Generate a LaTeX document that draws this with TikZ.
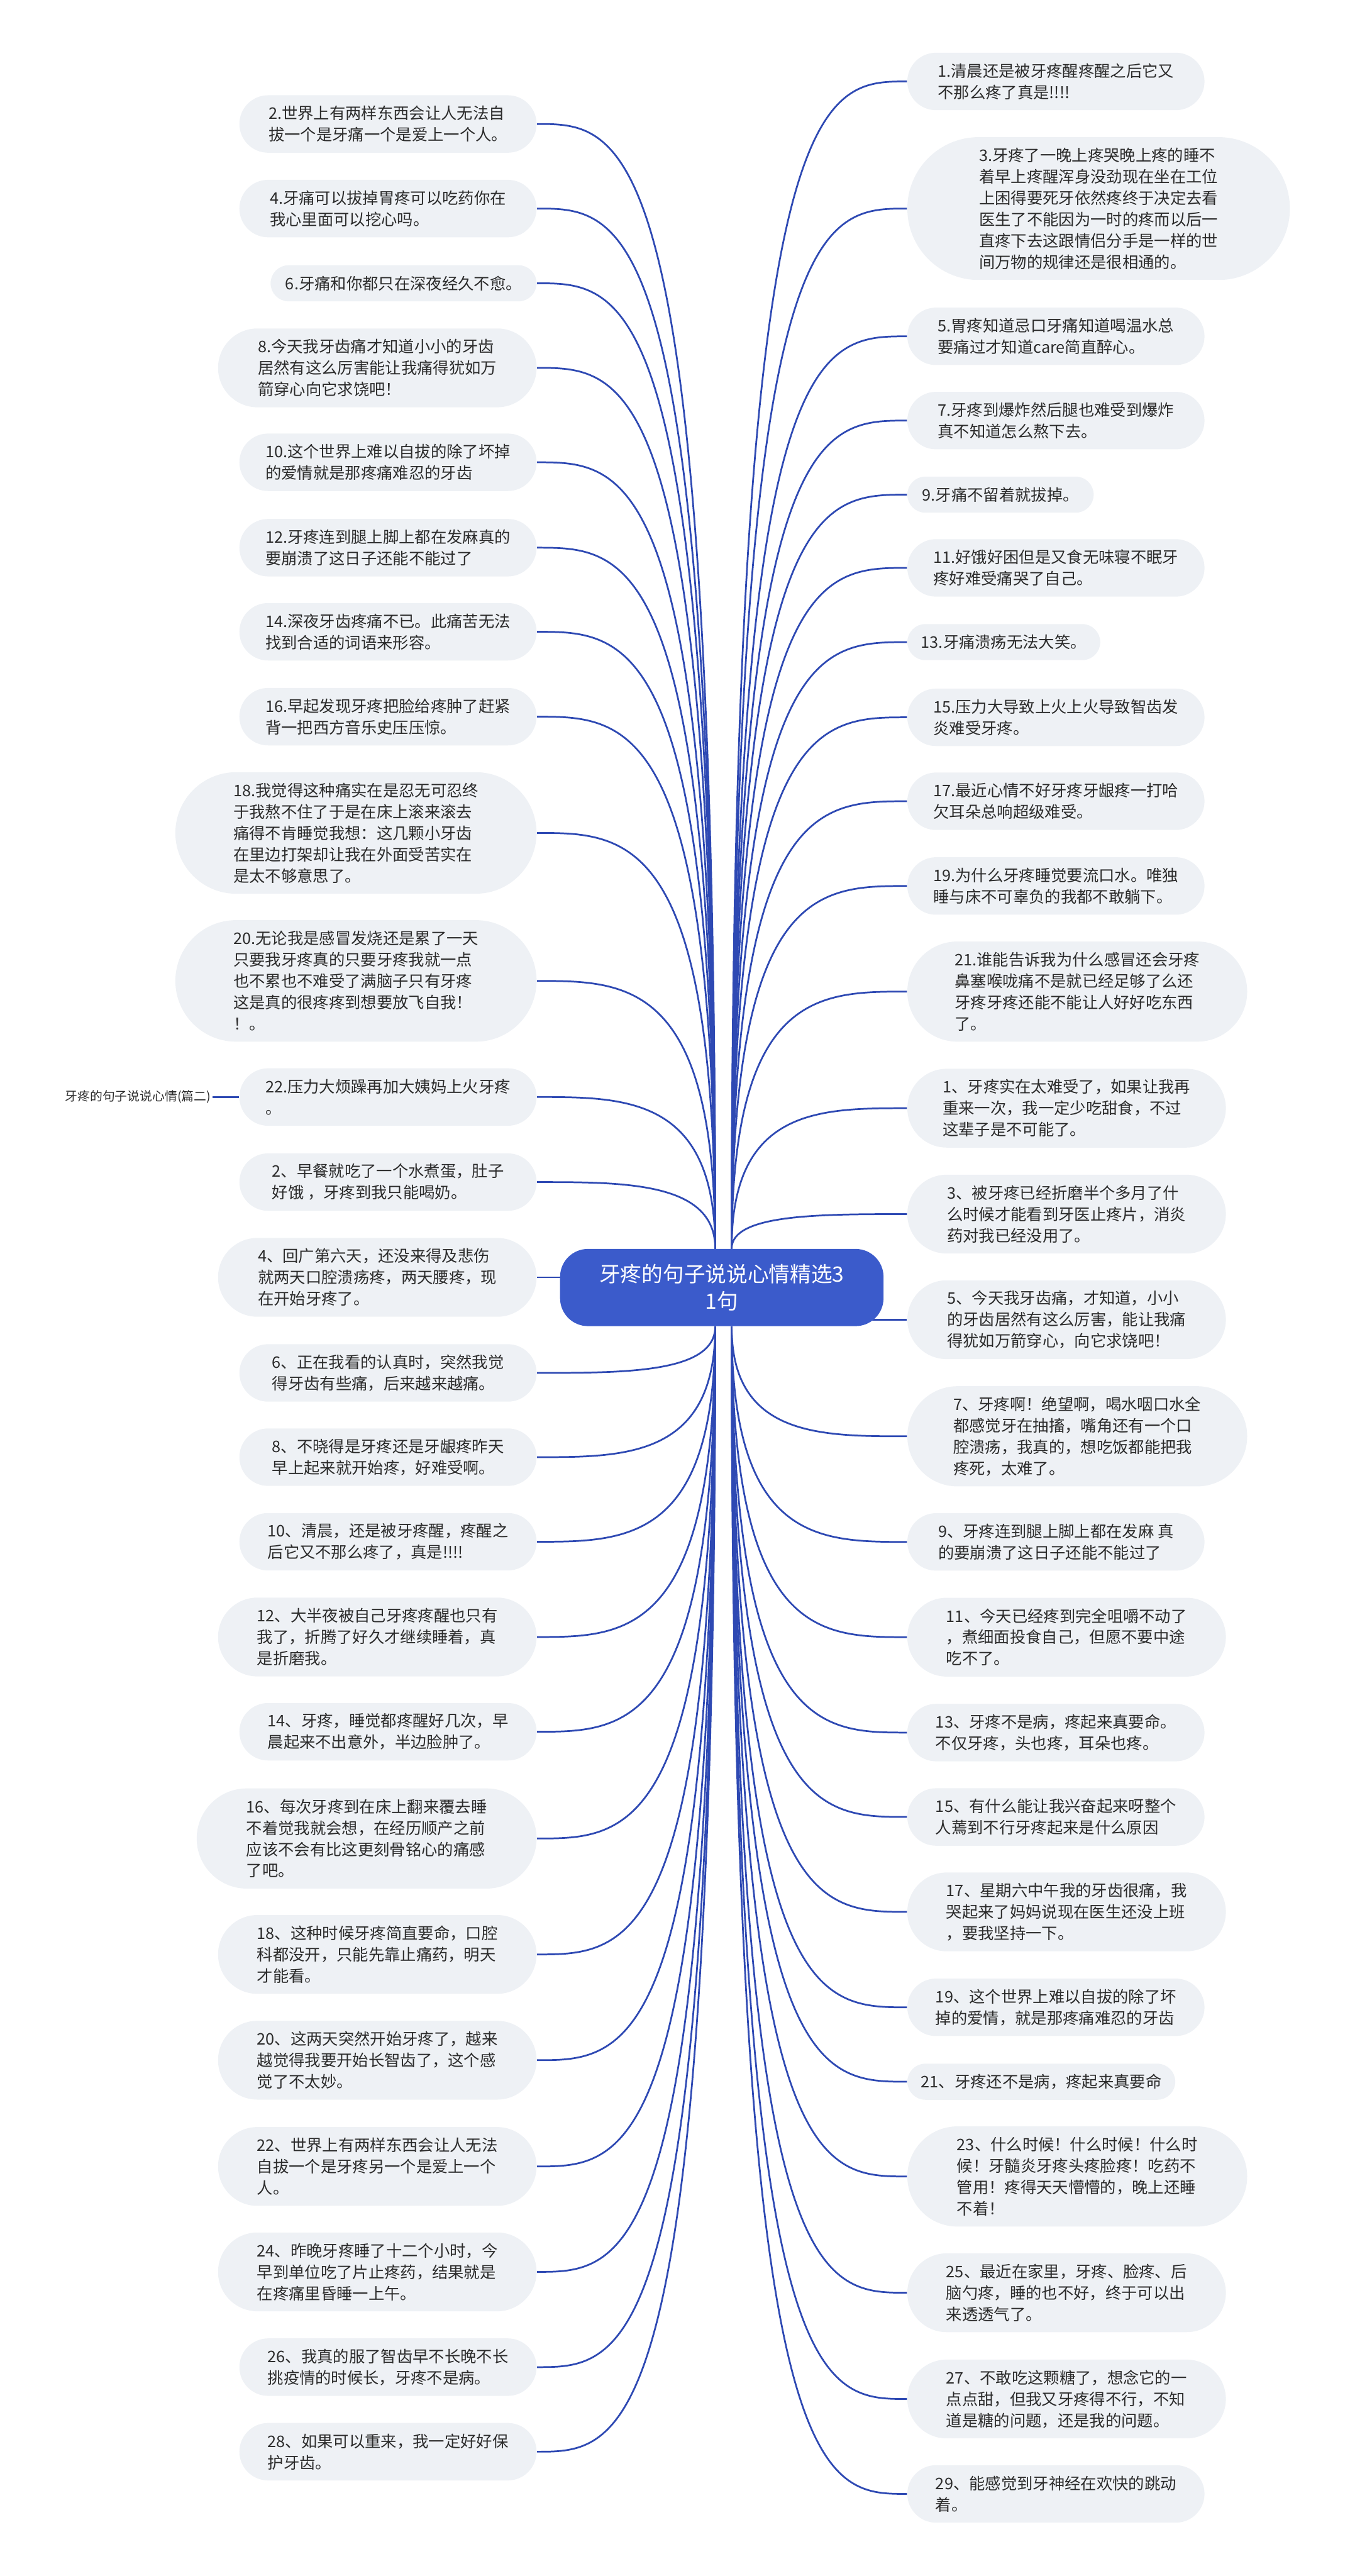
\documentclass[tikz,border=0pt]{standalone}
\usepackage{fontspec}
\setmainfont{Noto Sans CJK SC}
\usepackage{xcolor}
\usetikzlibrary{positioning,shapes.misc,calc,backgrounds}

\definecolor{leaffill}{HTML}{EEF1F5}
\definecolor{hubblue}{HTML}{3B5BCB}
\definecolor{linkblue}{HTML}{2E49B3}
\definecolor{inkgray}{HTML}{2B2B2B}

\begin{document}
\begin{tikzpicture}[
  x=1pt, y=-1pt,
  leaf/.style={rounded rectangle, fill=leaffill, text=inkgray, align=left,
    inner sep=2pt, font=\fontsize{9.7pt}{13pt}\selectfont},
  h1/.style={minimum height=22pt},
  h2/.style={minimum width=185pt, minimum height=35pt},
  h3/.style={minimum width=198pt, minimum height=48pt},
  h4/.style={minimum width=211pt, minimum height=61pt},
  h5/.style={minimum width=224pt, minimum height=74pt},
  h6/.style={minimum width=237pt, minimum height=87pt},
  hub/.style={rectangle, rounded corners=17pt, fill=hubblue, text=white,
    align=center, minimum width=197pt, minimum height=47pt,
    font=\fontsize{12.9pt}{16.4pt}\selectfont},
  tag/.style={font=\fontsize{7.6pt}{9pt}\selectfont, text=inkgray, inner sep=1pt},
  link/.style={draw=linkblue, line width=1.05pt}
]
\useasboundingbox (0,0) rectangle (822,1568.6);

\node[hub] (hub) at (439.6,784) {牙疼的句子说说心情精选3\\1句};

% left column
\node[leaf, h2, anchor=east] (l1) at (327,75.5) {2.世界上有两样东西会让人无法自\\拔一个是牙痛一个是爱上一个人。};
\node[leaf, h2, anchor=east] (l2) at (327,127) {4.牙痛可以拔掉胃疼可以吃药你在\\我心里面可以挖心吗。};
\node[leaf, h1, minimum width=166pt, anchor=east] (l3) at (327,172.5) {6.牙痛和你都只在深夜经久不愈。};
\node[leaf, h3, anchor=east] (l4) at (327,224) {8.今天我牙齿痛才知道小小的牙齿\\居然有这么厉害能让我痛得犹如万\\箭穿心向它求饶吧！};
\node[leaf, h2, anchor=east] (l5) at (327,281.5) {10.这个世界上难以自拔的除了坏掉\\的爱情就是那疼痛难忍的牙齿};
\node[leaf, h2, anchor=east] (l6) at (327,333.5) {12.牙疼连到腿上脚上都在发麻真的\\要崩溃了这日子还能不能过了};
\node[leaf, h2, anchor=east] (l7) at (327,384.7) {14.深夜牙齿疼痛不已。此痛苦无法\\找到合适的词语来形容。};
\node[leaf, h2, anchor=east] (l8) at (327,436.4) {16.早起发现牙疼把脸给疼肿了赶紧\\背一把西方音乐史压压惊。};
\node[leaf, h5, anchor=east] (l9) at (327,507.2) {18.我觉得这种痛实在是忍无可忍终\\于我熬不住了于是在床上滚来滚去\\痛得不肯睡觉我想：这几颗小牙齿\\在里边打架却让我在外面受苦实在\\是太不够意思了。};
\node[leaf, h5, anchor=east] (l10) at (327,597.3) {20.无论我是感冒发烧还是累了一天\\只要我牙疼真的只要牙疼我就一点\\也不累也不难受了满脑子只有牙疼\\这是真的很疼疼到想要放飞自我！\\！。};
\node[leaf, h2, anchor=east] (l11) at (327,668) {22.压力大烦躁再加大姨妈上火牙疼\\。};
\node[leaf, h2, anchor=east] (l12) at (327,719.8) {2、早餐就吃了一个水煮蛋，肚子\\好饿 ，牙疼到我只能喝奶。};
\node[leaf, h3, anchor=east] (l13) at (327,777.8) {4、回广第六天，还没来得及悲伤\\就两天口腔溃疡疼，两天腰疼，现\\在开始牙疼了。};
\node[leaf, h2, anchor=east] (l14) at (327,836) {6、正在我看的认真时，突然我觉\\得牙齿有些痛，后来越来越痛。};
\node[leaf, h2, anchor=east] (l15) at (327,887.3) {8、不晓得是牙疼还是牙龈疼昨天\\早上起来就开始疼，好难受啊。};
\node[leaf, h2, anchor=east] (l16) at (327,938.8) {10、清晨，还是被牙疼醒，疼醒之\\后它又不那么疼了，真是!!!!};
\node[leaf, h3, anchor=east] (l17) at (327,996.8) {12、大半夜被自己牙疼疼醒也只有\\我了，折腾了好久才继续睡着，真\\是折磨我。};
\node[leaf, h2, anchor=east] (l18) at (327,1054.5) {14、牙疼，睡觉都疼醒好几次，早\\晨起来不出意外，半边脸肿了。};
\node[leaf, h4, anchor=east] (l19) at (327,1119.5) {16、每次牙疼到在床上翻来覆去睡\\不着觉我就会想，在经历顺产之前\\应该不会有比这更刻骨铭心的痛感\\了吧。};
\node[leaf, h3, anchor=east] (l20) at (327,1190.1) {18、这种时候牙疼简直要命，口腔\\科都没开，只能先靠止痛药，明天\\才能看。};
\node[leaf, h3, anchor=east] (l21) at (327,1254.5) {20、这两天突然开始牙疼了，越来\\越觉得我要开始长智齿了，这个感\\觉了不太妙。};
\node[leaf, h3, anchor=east] (l22) at (327,1319.2) {22、世界上有两样东西会让人无法\\自拔一个是牙疼另一个是爱上一个\\人。};
\node[leaf, h3, anchor=east] (l23) at (327,1383.4) {24、昨晚牙疼睡了十二个小时，今\\早到单位吃了片止疼药，结果就是\\在疼痛里昏睡一上午。};
\node[leaf, h2, anchor=east] (l24) at (327,1441.4) {26、我真的服了智齿早不长晚不长\\挑疫情的时候长，牙疼不是病。};
\node[leaf, h2, anchor=east] (l25) at (327,1492.9) {28、如果可以重来，我一定好好保\\护牙齿。};

% right column
\node[leaf, h2, anchor=west] (r1) at (552.4,49.6) {1.清晨还是被牙疼醒疼醒之后它又\\不那么疼了真是!!!!};
\node[leaf, h6, anchor=west] (r2) at (552.4,127) {3.牙疼了一晚上疼哭晚上疼的睡不\\着早上疼醒浑身没劲现在坐在工位\\上困得要死牙依然疼终于决定去看\\医生了不能因为一时的疼而以后一\\直疼下去这跟情侣分手是一样的世\\间万物的规律还是很相通的。};
\node[leaf, h2, anchor=west] (r3) at (552.4,204.8) {5.胃疼知道忌口牙痛知道喝温水总\\要痛过才知道care简直醉心。};
\node[leaf, h2, anchor=west] (r4) at (552.4,256.1) {7.牙疼到爆炸然后腿也难受到爆炸\\真不知道怎么熬下去。};
\node[leaf, h1, minimum width=117.5pt, anchor=west] (r5) at (552.4,301.2) {9.牙痛不留着就拔掉。};
\node[leaf, h2, anchor=west] (r6) at (552.4,345.8) {11.好饿好困但是又食无味寝不眠牙\\疼好难受痛哭了自己。};
\node[leaf, h1, minimum width=121.5pt, anchor=west] (r7) at (552.4,391) {13.牙痛溃疡无法大笑。};
\node[leaf, h2, anchor=west] (r8) at (552.4,436.8) {15.压力大导致上火上火导致智齿发\\炎难受牙疼。};
\node[leaf, h2, anchor=west] (r9) at (552.4,487.9) {17.最近心情不好牙疼牙龈疼一打哈\\欠耳朵总响超级难受。};
\node[leaf, h2, anchor=west] (r10) at (552.4,539.5) {19.为什么牙疼睡觉要流口水。唯独\\睡与床不可辜负的我都不敢躺下。};
\node[leaf, h4, anchor=west] (r11) at (552.4,603.8) {21.谁能告诉我为什么感冒还会牙疼\\鼻塞喉咙痛不是就已经足够了么还\\牙疼牙疼还能不能让人好好吃东西\\了。};
\node[leaf, h3, anchor=west] (r12) at (552.4,674.8) {1、牙疼实在太难受了，如果让我再\\重来一次，我一定少吃甜食，不过\\这辈子是不可能了。};
\node[leaf, h3, anchor=west] (r13) at (552.4,739.3) {3、被牙疼已经折磨半个多月了什\\么时候才能看到牙医止疼片，消炎\\药对我已经没用了。};
\node[leaf, h3, anchor=west] (r14) at (552.4,803.6) {5、今天我牙齿痛，才知道，小小\\的牙齿居然有这么厉害，能让我痛\\得犹如万箭穿心，向它求饶吧！};
\node[leaf, h4, anchor=west] (r15) at (552.4,874.6) {7、牙疼啊！绝望啊，喝水咽口水全\\都感觉牙在抽搐，嘴角还有一个口\\腔溃疡，我真的，想吃饭都能把我\\疼死，太难了。};
\node[leaf, h2, anchor=west] (r16) at (552.4,938.9) {9、牙疼连到腿上脚上都在发麻 真\\的要崩溃了这日子还能不能过了};
\node[leaf, h3, anchor=west] (r17) at (552.4,996.9) {11、今天已经疼到完全咀嚼不动了\\，煮细面投食自己，但愿不要中途\\吃不了。};
\node[leaf, h2, anchor=west] (r18) at (552.4,1055) {13、牙疼不是病，疼起来真要命。\\不仅牙疼，头也疼，耳朵也疼。};
\node[leaf, h2, anchor=west] (r19) at (552.4,1106.4) {15、有什么能让我兴奋起来呀整个\\人蔫到不行牙疼起来是什么原因};
\node[leaf, h3, anchor=west] (r20) at (552.4,1164.2) {17、星期六中午我的牙齿很痛，我\\哭起来了妈妈说现在医生还没上班\\，要我坚持一下。};
\node[leaf, h2, anchor=west] (r21) at (552.4,1222.3) {19、这个世界上难以自拔的除了坏\\掉的爱情，就是那疼痛难忍的牙齿};
\node[leaf, h1, minimum width=167.2pt, anchor=west] (r22) at (552.4,1267.6) {21、牙疼还不是病，疼起来真要命};
\node[leaf, h4, anchor=west] (r23) at (552.4,1325.3) {23、什么时候！什么时候！什么时\\候！牙髓炎牙疼头疼脸疼！吃药不\\管用！疼得天天懵懵的，晚上还睡\\不着！};
\node[leaf, h3, anchor=west] (r24) at (552.4,1396.1) {25、最近在家里，牙疼、脸疼、后\\脑勺疼，睡的也不好，终于可以出\\来透透气了。};
\node[leaf, h3, anchor=west] (r25) at (552.4,1460.8) {27、不敢吃这颗糖了，想念它的一\\点点甜，但我又牙疼得不行，不知\\道是糖的问题，还是我的问题。};
\node[leaf, h2, anchor=west] (r26) at (552.4,1518.6) {29、能感觉到牙神经在欢快的跳动\\着。};

% the small title hanging off l11
\node[tag, left=16pt of l11] (tag) {牙疼的句子说说心情(篇二)};

\coordinate (tl) at ([xshift=-4pt]hub.north);
\coordinate (tr) at ([xshift=6pt]hub.north);
\coordinate (bl) at ([xshift=-4pt]hub.south);
\coordinate (br) at ([xshift=6pt]hub.south);

\begin{scope}[on background layer]
  \foreach \n in {l1,l2,l3,l4,l5,l6,l7,l8,l9,l10,l11,l12}
    \draw[link] (tl) .. controls (tl |- \n.east) and ($(tl |- \n.east)!.5!(\n.east)$) .. (\n.east);
  \foreach \n in {l14,l15,l16,l17,l18,l19,l20,l21,l22,l23,l24,l25}
    \draw[link] (bl) .. controls (bl |- \n.east) and ($(bl |- \n.east)!.5!(\n.east)$) .. (\n.east);
  \foreach \n in {r1,r2,r3,r4,r5,r6,r7,r8,r9,r10,r11,r12,r13}
    \draw[link] (tr) .. controls (tr |- \n.west) and ($(tr |- \n.west)!.5!(\n.west)$) .. (\n.west);
  \foreach \n in {r15,r16,r17,r18,r19,r20,r21,r22,r23,r24,r25,r26}
    \draw[link] (br) .. controls (br |- \n.west) and ($(br |- \n.west)!.5!(\n.west)$) .. (\n.west);
  \draw[link] (l13.east) -- (l13.east -| hub.center);
  \draw[link] (r14.west) -- (r14.west -| hub.center);
\end{scope}
\draw[link] (tag) -- (l11);
\end{tikzpicture}
\end{document}
